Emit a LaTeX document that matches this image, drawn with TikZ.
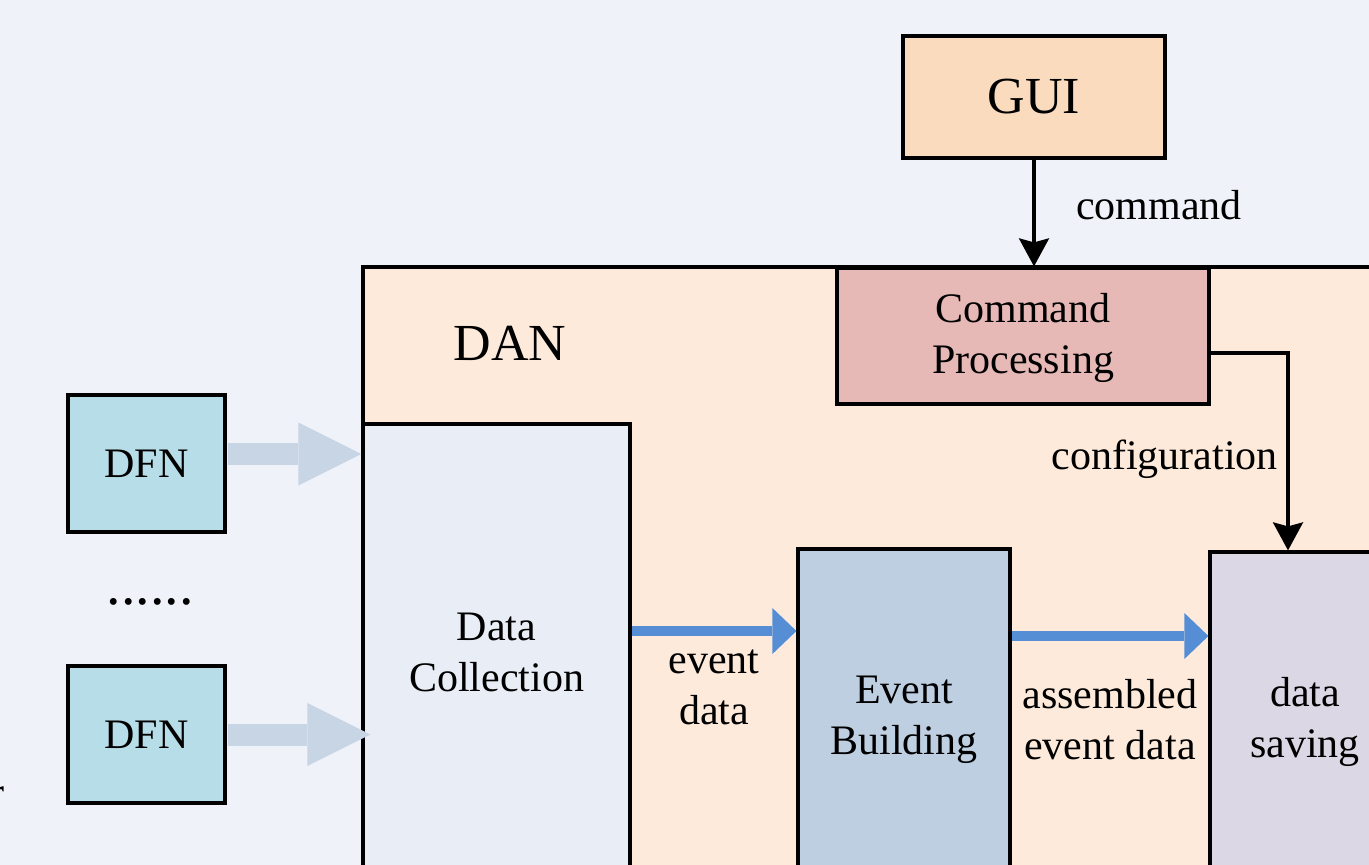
\documentclass[tikz,border=0pt]{standalone}
\usepackage{fontspec}
\setmainfont{Liberation Serif}
\usepackage{xcolor}
\usetikzlibrary{arrows.meta, positioning, calc}

\definecolor{bgcol}{HTML}{EFF2F8}
\definecolor{guifill}{HTML}{FBDBBE}
\definecolor{danfill}{HTML}{FDEADB}
\definecolor{cpfill}{HTML}{E6B8B6}
\definecolor{dcfill}{HTML}{E9EEF6}
\definecolor{ebfill}{HTML}{BFCFE2}
\definecolor{dsfill}{HTML}{DCD7E5}
\definecolor{dfnfill}{HTML}{B7DEE8}
\definecolor{flowblue}{HTML}{558ED5}
\definecolor{feedblue}{HTML}{C8D5E5}

\begin{document}
\begin{tikzpicture}[x=0.5pt, y=-0.5pt,
    box/.style={draw, line width=1.6pt, align=center, inner sep=0pt, font=\fontsize{21}{25.5}\selectfont},
    lbl/.style={align=center, font=\fontsize{21}{25.5}\selectfont},
    cmd/.style={-{Stealth[length=14pt, width=15pt, inset=2pt]}, line width=1.6pt},
    flow/.style={-{Triangle[length=12pt, width=23pt, line width=0pt]}, line width=5pt, draw=flowblue},
    feed/.style={-{Triangle[length=31.5pt, width=31.5pt, line width=0pt]}, line width=11pt, draw=feedblue}]
    \useasboundingbox (0,0) rectangle (1369,865);
    \fill[bgcol] (0,0) rectangle (1369,865);

    % the DAN frame and its blocks
    \node[box, fill=danfill, minimum width=518.5pt, minimum height=316.5pt] (dan) at (881.5,583.5) {};
    \node[lbl, font=\fontsize{26}{30}\selectfont] (dantitle) at (510,343) {DAN};
    \node[box, fill=guifill, minimum width=131pt, minimum height=61pt, font=\fontsize{26}{30}\selectfont] (gui) at (1034,97) {GUI};
    \node[box, fill=cpfill, minimum width=186pt, minimum height=68pt] (cp) at (1023,336) {\raisebox{-6.25pt}[0pt][0pt]{\begin{tabular}{@{}c@{}}Command\\Processing\end{tabular}}};
    \node[box, fill=dcfill, minimum width=133.5pt, minimum height=228pt] (dc) at (496.5,652) {Data\\Collection};
    \node[box, fill=ebfill, minimum width=106pt, minimum height=170.5pt] (eb) at (904,719.5) {Event\\Building};
    \node[box, fill=dsfill, minimum width=95pt, minimum height=170pt] (ds) at (1305,722) {data\\saving};

    % front-end nodes
    \node[box, fill=dfnfill, minimum width=78.5pt, minimum height=68.5pt] (dfn1) at (146.5,463.5) {DFN};
    \node[box, fill=dfnfill, minimum width=78.5pt, minimum height=68.5pt] (dfn2) at (146.5,734.5) {DFN};
    \node[lbl, font=\fontsize{29}{30}\selectfont] (dots) at (150,602) {......};
    \node[lbl, anchor=base east, inner sep=0pt] (tail) at (5,806) {r};

    % control path
    \draw[cmd] (gui) -- (gui.south |- cp.north) node[lbl, pos=0.43, right=17pt] {command};
    \draw[cmd] ([yshift=-8.5pt]cp.east) -| ([xshift=-8.5pt]ds.north) node[lbl, pos=0.77, left=1pt] {configuration};

    % data path
    \draw[feed] ([yshift=4.75pt, xshift=0.8pt]dfn1.east) -- ([yshift=4.75pt]dfn1.east -| dc.west);
    \draw[feed] ([xshift=0.8pt]dfn2.east) -- ([xshift=4.5pt]dfn2.east -| dc.west);
    \draw[flow] ([yshift=10.5pt]dc.east) -- ([yshift=10.5pt]dc.east -| eb.west) node[lbl, midway, yshift=-28pt] {event\\data};
    \draw[flow] ([yshift=41.75pt]eb.east) -- ([yshift=41.75pt]eb.east -| ds.west) node[lbl, midway, yshift=-42pt] {assembled\\event data};
\end{tikzpicture}
\end{document}
